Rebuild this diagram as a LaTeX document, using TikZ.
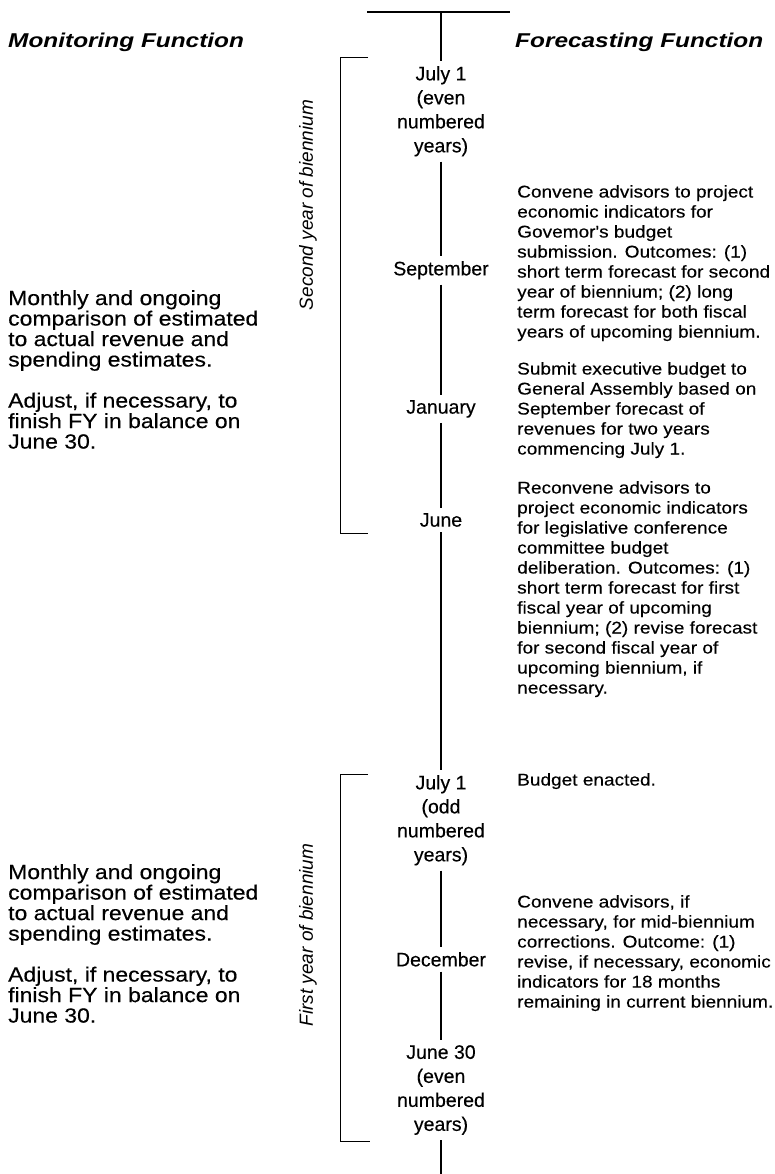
\documentclass[tikz,border=0pt]{standalone}
\usepackage{fontspec}
\setmainfont{Liberation Sans}
\newfontfamily\bodyfont[FakeStretch=1.12,FakeBold=0.3]{Liberation Sans}
\newfontfamily\datefont[FakeBold=0.3]{Liberation Sans}
\newfontfamily\headfont[FakeStretch=1.22]{Liberation Sans}

\begin{document}
\begin{tikzpicture}[x=1pt, y=-1pt,
hdr/.style = {anchor=west, inner sep=0pt, font=\headfont\bfseries\itshape\fontsize{20}{24}\selectfont},
note/.style = {anchor=north west, align=left, inner sep=0pt, font=\bodyfont\fontsize{17}{20}\selectfont},
mon/.style = {anchor=north west, align=left, inner sep=0pt, font=\bodyfont\fontsize{20.5}{20.5}\selectfont},
dte/.style = {anchor=north, align=center, inner xsep=0pt, inner ysep=5pt, font=\datefont\fontsize{19.5}{24}\selectfont},
side/.style = {rotate=90, inner sep=0pt, font=\itshape\fontsize{19}{22}\selectfont},
tline/.style = {line width=1.3pt}, brk/.style = {line width=1pt}
]
\useasboundingbox (0,0) rectangle (775,1174);
% column headings
\node[hdr] (monhd) at (8,42) {Monitoring Function};
\node[hdr] (forehd) at (515,42) {Forecasting Function};
% dates on the time line
\node[dte] (j1e) at (441,61) {July 1\\(even\\numbered\\years)};
\node[dte] (sep) at (441,256) {September};
\node[dte] (jan) at (441,395) {January};
\node[dte] (jun) at (441,508) {June};
\node[dte] (j1o) at (441,770) {July 1\\(odd\\numbered\\years)};
\node[dte] (dec) at (441,947) {December};
\node[dte] (j30) at (441,1040) {June 30\\(even\\numbered\\years)};
\coordinate (topl) at (367,12);
\coordinate (topr) at (510,12);
\coordinate (topm) at (441,12);
\coordinate (botm) at (441,1174);
\draw[tline] (topl) -- (topr);
\foreach \a/\b in {topm/j1e, j1e/sep, sep/jan, jan/jun, jun/j1o, j1o/dec, dec/j30, j30/botm}{\draw[tline] (\a) -- (\b);}
% year brackets
\coordinate (b1t) at (368,58);
\coordinate (b1b) at (368,533);
\coordinate (b2t) at (368,774);
\coordinate (b2b) at (370,1141);
\draw[brk] (b1t) -- ++(-28,0) |- (b1b);
\draw[brk] (b2t) -- ++(-28,0) |- (b2b);
\node[side] (yr2) at (308,205) {Second year of biennium};
\node[side] (yr1) at (308,935) {First year of biennium};
% monitoring
\foreach \n/\y in {mon2/290, mon1/864}{
\node[mon] (\n) at (8,\y) {Monthly and ongoing\\comparison of estimated\\to actual revenue and\\spending estimates.\\[20.5pt]Adjust, if necessary, to\\finish FY in balance on\\June 30.};}
% forecasting
\node[note] (fc1) at (517,185) {Convene advisors to project\\economic indicators for\\Govemor's budget\\submission. Outcomes: (1)\\short term forecast for second\\year of biennium; (2) long\\term forecast for both fiscal\\years of upcoming biennium.};
\node[note] (fc2) at (517,362) {Submit executive budget to\\General Assembly based on\\September forecast of\\revenues for two years\\commencing July 1.};
\node[note] (fc3) at (517,481) {Reconvene advisors to\\project economic indicators\\for legislative conference\\committee budget\\deliberation. Outcomes: (1)\\short term forecast for first\\fiscal year of upcoming\\biennium; (2) revise forecast\\for second fiscal year of\\upcoming biennium, if\\necessary.};
\node[note] (fc4) at (517,773) {Budget enacted.};
\node[note] (fc5) at (517,895) {Convene advisors, if\\necessary, for mid-biennium\\corrections. Outcome: (1)\\revise, if necessary, economic\\indicators for 18 months\\remaining in current biennium.};
\end{tikzpicture}
\end{document}
